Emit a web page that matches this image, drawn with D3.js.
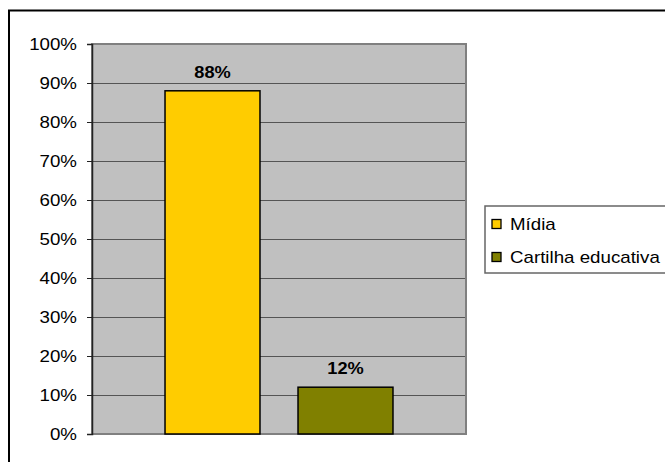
<!DOCTYPE html>
<html>
<head>
<meta charset="utf-8">
<script src="https://cdn.jsdelivr.net/npm/d3@7"></script>
<style>
  body { margin: 0; background: #fff; }
  text { font-family: "Liberation Sans", Arial, sans-serif; }
</style>
</head>
<body>
<div id="chart"></div>
<script>
var series = ["Mídia", "Cartilha educativa"];
var values = [0.88, 0.12];
var colors = ["#ffcc00", "#808000"];
var tickValues = [0, 0.1, 0.2, 0.3, 0.4, 0.5, 0.6, 0.7, 0.8, 0.9, 1];

var width = 665, height = 462;
var plot = { left: 92, top: 44, right: 466, bottom: 434 };
var sx = 1.17; // text in the picture is stretched horizontally
var fs = 16;

var svg = d3.select('#chart').append('svg')
  .attr('width', width)
  .attr('height', height);

// outer frame (right and bottom fall outside the picture)
svg.append('rect')
  .attr('x', 9).attr('y', 10.5)
  .attr('width', 700).attr('height', 500)
  .attr('fill', 'none')
  .attr('stroke', '#000')
  .attr('stroke-width', 2);

var yScale = d3.scaleLinear()
  .domain([0, 1])
  .range([plot.bottom, plot.top]);

var xScale = d3.scaleBand()
  .domain(series)
  .range([plot.left, plot.right])
  .paddingInner(0.286)
  .paddingOuter(0.549);

// plot background
svg.append('rect')
  .attr('x', plot.left).attr('y', plot.top)
  .attr('width', plot.right - plot.left)
  .attr('height', plot.bottom - plot.top)
  .attr('fill', '#c0c0c0')
  .attr('stroke', '#808080')
  .attr('stroke-width', 2);

// gridlines
svg.append('g').selectAll('line')
  .data(tickValues.slice(1, -1))
  .enter().append('line')
    .attr('x1', plot.left).attr('x2', plot.right - 1)
    .attr('y1', function(d){ return Math.round(yScale(d)) + 0.5 })
    .attr('y2', function(d){ return Math.round(yScale(d)) + 0.5 })
    .attr('stroke', '#555')
    .attr('stroke-width', 1.2);

// y axis
var yAxis = d3.axisLeft(yScale)
  .tickValues(tickValues)
  .tickSize(5)
  .tickFormat(d3.format('.0%'));

var yGuide = svg.append('g')
  .attr('transform', 'translate(' + plot.left + ',0)')
  .call(yAxis);
yGuide.select('.domain').attr('stroke', '#222').attr('stroke-width', 1.5);
yGuide.selectAll('.tick line').attr('stroke', '#222');
yGuide.selectAll('.tick text')
  .attr('x', 0).attr('dy', 0)
  .attr('transform', 'translate(-15,5.5) scale(' + sx + ',1)')
  .attr('font-size', fs)
  .attr('fill', '#000')
  .attr('text-anchor', 'end');

// bars
svg.append('g').selectAll('rect')
  .data(values)
  .enter().append('rect')
    .attr('x', function(d, i){ return xScale(series[i]) })
    .attr('y', function(d){ return yScale(d) })
    .attr('width', xScale.bandwidth())
    .attr('height', function(d){ return plot.bottom - yScale(d) })
    .attr('fill', function(d, i){ return colors[i] })
    .attr('stroke', '#000')
    .attr('stroke-width', 1.5);

// data labels
svg.append('g').selectAll('text')
  .data(values)
  .enter().append('text')
    .attr('transform', function(d, i){
      return 'translate(' + (xScale(series[i]) + xScale.bandwidth() / 2) + ',' + (yScale(d) - 13) + ') scale(' + (sx - 0.03) + ',1)'
    })
    .attr('text-anchor', 'middle')
    .attr('font-size', fs)
    .attr('font-weight', 'bold')
    .text(function(d){ return d3.format('.0%')(d) });

// legend
var legend = svg.append('g');
legend.append('rect')
  .attr('x', 485).attr('y', 206)
  .attr('width', 200).attr('height', 67)
  .attr('fill', '#fff')
  .attr('stroke', '#666')
  .attr('stroke-width', 1.5);

var items = legend.selectAll('g.item')
  .data(series)
  .enter().append('g')
    .attr('class', 'item')
    .attr('transform', function(d, i){ return 'translate(492,' + (224 + i * 33) + ')' });

items.append('rect')
  .attr('x', 0).attr('y', -4.5)
  .attr('width', 9).attr('height', 9)
  .attr('fill', function(d, i){ return colors[i] })
  .attr('stroke', '#000')
  .attr('stroke-width', 1.3);

items.append('text')
  .attr('transform', 'translate(18,5.5) scale(' + sx + ',1)')
  .attr('font-size', fs)
  .text(function(d){ return d });
</script>
</body>
</html>
